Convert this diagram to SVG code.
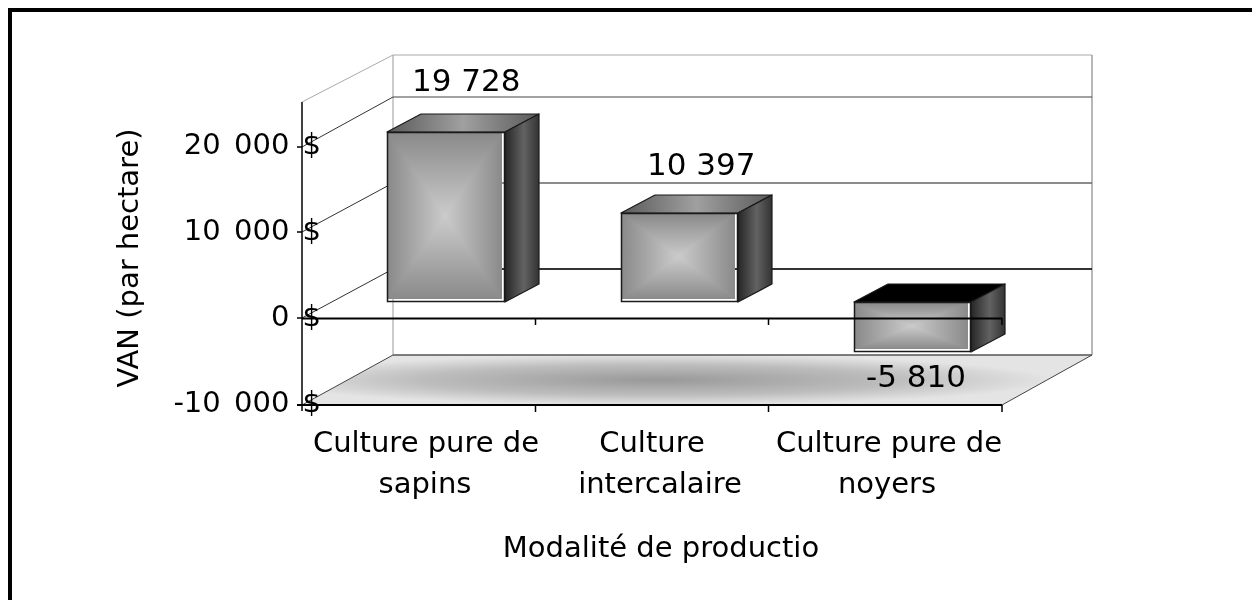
<svg xmlns="http://www.w3.org/2000/svg" width="1252" height="600" viewBox="0 0 1252 600">
<defs>
<linearGradient id="fh" x1="0" y1="0" x2="1" y2="0"><stop offset="0" stop-color="#8a8a8a"/><stop offset="0.5" stop-color="#cbcbcb"/><stop offset="1" stop-color="#8a8a8a"/></linearGradient>
<linearGradient id="fv" x1="0" y1="0" x2="0" y2="1"><stop offset="0" stop-color="#8a8a8a"/><stop offset="0.5" stop-color="#cbcbcb"/><stop offset="1" stop-color="#8a8a8a"/></linearGradient>
<linearGradient id="side" x1="0" y1="0" x2="1" y2="0"><stop offset="0" stop-color="#262626"/><stop offset="0.55" stop-color="#626262"/><stop offset="1" stop-color="#333"/></linearGradient>
<linearGradient id="top" x1="0" y1="0" x2="1" y2="0"><stop offset="0" stop-color="#5a5a5a"/><stop offset="0.5" stop-color="#a0a0a0"/><stop offset="1" stop-color="#5a5a5a"/></linearGradient>
<radialGradient id="floor" cx="0.45" cy="0.5" r="0.5"><stop offset="0" stop-color="#999"/><stop offset="0.6" stop-color="#bdbdbd"/><stop offset="1" stop-color="#e4e4e4"/></radialGradient>
<style>
.t{font-family:"DejaVu Sans","Liberation Sans",sans-serif;fill:#000}
.ax{font-size:29px;text-anchor:end;word-spacing:4px}
.cat{font-size:29px;text-anchor:middle}
.val{font-size:31px}
.out{fill:none;stroke:#1a1a1a;stroke-width:1.5}
.blend{mix-blend-mode:darken}
.edge{stroke:#1a1a1a;stroke-width:1.2;stroke-linejoin:round}
</style>
</defs>
<rect width="1252" height="600" fill="#fff"/>
<path d="M10 600V10H1252" fill="none" stroke="#000" stroke-width="4"/>

<g id="walls" fill="none">
<polygon id="floor-plane" points="302,405 393,355 1092,355 1002,405" fill="url(#floor)" stroke="none"/>
<line x1="393" y1="55" x2="1092" y2="55" stroke="#aaa" stroke-width="1"/>
<line x1="393" y1="55" x2="393" y2="355" stroke="#999" stroke-width="1"/>
<line x1="1092" y1="55" x2="1092" y2="355" stroke="#888" stroke-width="1.2"/>
<line x1="393" y1="97" x2="1092" y2="97" stroke="#444" stroke-width="1"/>
<line x1="393" y1="183" x2="1092" y2="183" stroke="#666" stroke-width="1.5"/>
<line x1="393" y1="269" x2="1092" y2="269" stroke="#333" stroke-width="2"/>
<line x1="393" y1="355" x2="1092" y2="355" stroke="#555" stroke-width="1.5"/>
<line x1="302" y1="102" x2="393" y2="55" stroke="#aaa" stroke-width="1"/>
<line x1="302" y1="147" x2="393" y2="97" stroke="#333" stroke-width="1"/>
<line x1="302" y1="232" x2="393" y2="183" stroke="#333" stroke-width="1"/>
<line x1="302" y1="318" x2="393" y2="269" stroke="#333" stroke-width="1"/>
<line x1="302" y1="405" x2="393" y2="355" stroke="#444" stroke-width="1"/>
<line x1="1002" y1="405" x2="1092" y2="355" stroke="#444" stroke-width="1"/>
</g>

<g id="bar-sapins">
<polygon class="edge" points="387,132 421,114 539,114 505,132" fill="url(#top)"/>
<polygon class="edge" points="505,132 539,114 539,284 505,302" fill="url(#side)"/>
<rect x="388" y="133" width="114" height="166" fill="url(#fh)"/>
<rect class="blend" x="388" y="133" width="114" height="166" fill="url(#fv)"/>
<rect class="out" x="387.5" y="132.5" width="117" height="169"/>
</g>
<g id="bar-intercalaire">
<polygon class="edge" points="621,213 655,195 772,195 738,213" fill="url(#top)"/>
<polygon class="edge" points="738,213 772,195 772,284 738,302" fill="url(#side)"/>
<rect x="622" y="214" width="113" height="85" fill="url(#fh)"/>
<rect class="blend" x="622" y="214" width="113" height="85" fill="url(#fv)"/>
<rect class="out" x="621.5" y="213.5" width="116" height="88"/>
</g>
<g id="bar-noyers">
<polygon class="edge" points="854,302 888,284 1005,284 971,302" fill="#000"/>
<polygon class="edge" points="971,302 1005,284 1005,334 971,352" fill="url(#side)"/>
<rect x="855" y="303" width="113" height="46" fill="url(#fh)"/>
<rect class="blend" x="855" y="303" width="113" height="46" fill="url(#fv)"/>
<rect class="out" x="854.5" y="302.5" width="116" height="49"/>
</g>

<g id="axes" stroke="#000" fill="none">
<line x1="302" y1="102" x2="302" y2="411" stroke-width="1.5"/>
<path d="M297 147H302M297 232H302M297 318H302M297 405H302" stroke-width="1.5"/>
<line x1="302" y1="318.5" x2="1002" y2="318.5" stroke-width="2"/>
<line x1="297" y1="405" x2="1002" y2="405" stroke-width="2"/>
<path d="M535.5 318V325M768.5 318V325M1002 318V325M535.5 405V412M768.5 405V412M1002 405V412" stroke-width="1.5"/>
</g>

<g id="labels">
<text class="t ax" x="321" y="154">20 000 $</text>
<text class="t ax" x="321" y="240">10 000 $</text>
<text class="t ax" x="321" y="326">0 $</text>
<text class="t ax" x="321" y="412">-10 000 $</text>
<text class="t val" x="412" y="91">19 728</text>
<text class="t val" x="647" y="175">10 397</text>
<text class="t val" x="866" y="387">-5 810</text>
<text class="t cat" x="426" y="452">Culture pure de</text>
<text class="t cat" x="425" y="493">sapins</text>
<text class="t cat" x="652" y="452">Culture</text>
<text class="t cat" x="660" y="493">intercalaire</text>
<text class="t cat" x="889" y="452">Culture pure de</text>
<text class="t cat" x="887" y="493">noyers</text>
<text class="t cat" x="661" y="557">Modalité de productio</text>
<text class="t cat" transform="translate(138,258) rotate(-90)">VAN (par hectare)</text>
</g>
</svg>
